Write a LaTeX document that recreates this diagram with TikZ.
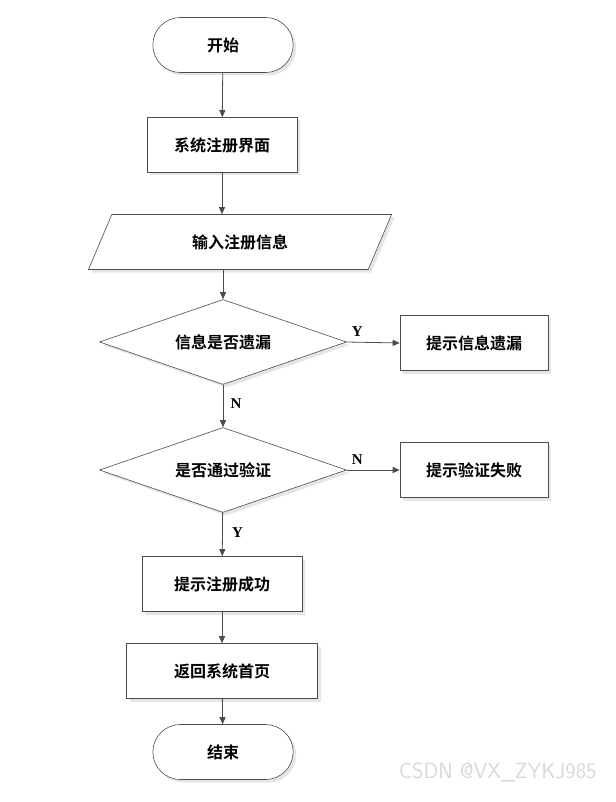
\documentclass[tikz,border=0pt]{standalone}
\usepackage{fontspec}
\setmainfont{Liberation Serif}
\newfontfamily\cjk{Noto Sans CJK SC}[BoldFont={Noto Sans CJK SC Bold}]
\usetikzlibrary{shapes.geometric, shapes.misc, shadows, arrows.meta}

\begin{document}
\begin{tikzpicture}[x=1pt,y=-1pt,>={Triangle[length=7pt,width=6pt]},
    every node/.style={font=\cjk\bfseries\fontsize{16}{18}\selectfont},
    box/.style={draw=black!70, fill=white, line width=0.6pt, minimum height=55pt,
      drop shadow={shadow xshift=3pt, shadow yshift=-3pt, fill=black!20}},
    term/.style={box, rounded rectangle, minimum width=147pt},
    io/.style={box, trapezium, trapezium left angle=67, trapezium right angle=113, minimum width=240pt},
    test/.style={box, diamond, aspect=2.9, minimum width=247pt, minimum height=85pt, inner sep=0pt},
    flow/.style={->, draw=black!70, line width=0.8pt},
    yn/.style={font=\rmfamily\bfseries\fontsize{15}{16}\selectfont}]
    \useasboundingbox (0,0) rectangle (615,802);

    % main column
    \node[term] (start) at (223,45) {开始};
    \node[box, minimum width=150pt] (page) at (222,145) {系统注册界面};
    \node[io] (input) at (240,242) {输入注册信息};
    \node[test] (miss) at (223,342) {信息是否遗漏};
    \node[test] (check) at (223,470) {是否通过验证};
    \node[box, minimum width=160pt] (ok) at (222,584) {提示注册成功};
    \node[box, minimum width=191pt] (home) at (222,671) {返回系统首页};
    \node[term] (stop) at (223,752) {结束};

    % side boxes
    \node[box, minimum width=148pt] (msgmiss) at (474,343) {提示信息遗漏};
    \node[box, minimum width=148pt] (msgfail) at (474,470) {提示验证失败};

    % connectors
    \draw[flow] (start) -- (page);
    \draw[flow] (page) -- (page |- input.north);
    \draw[flow] (input.south -| miss) -- (miss);
    \draw[flow] (miss) -- node[yn, right=4pt, pos=0.45] {N} (check);
    \draw[flow] (check) -- node[yn, right=6pt, pos=0.45] {Y} (ok);
    \draw[flow] (ok) -- (home);
    \draw[flow] (home) -- (stop);
    \draw[flow] (miss.east) -- node[yn, above=2pt, pos=0.2] {Y} (msgmiss.west);
    \draw[flow] (check.east) -- node[yn, above=2pt, pos=0.2] {N} (msgfail.west);

    \node[font=\sffamily\fontsize{22}{24}\selectfont, text=black!15, anchor=east] at (600,772) {CSDN @VX\_ZYKJ985};
\end{tikzpicture}
\end{document}
